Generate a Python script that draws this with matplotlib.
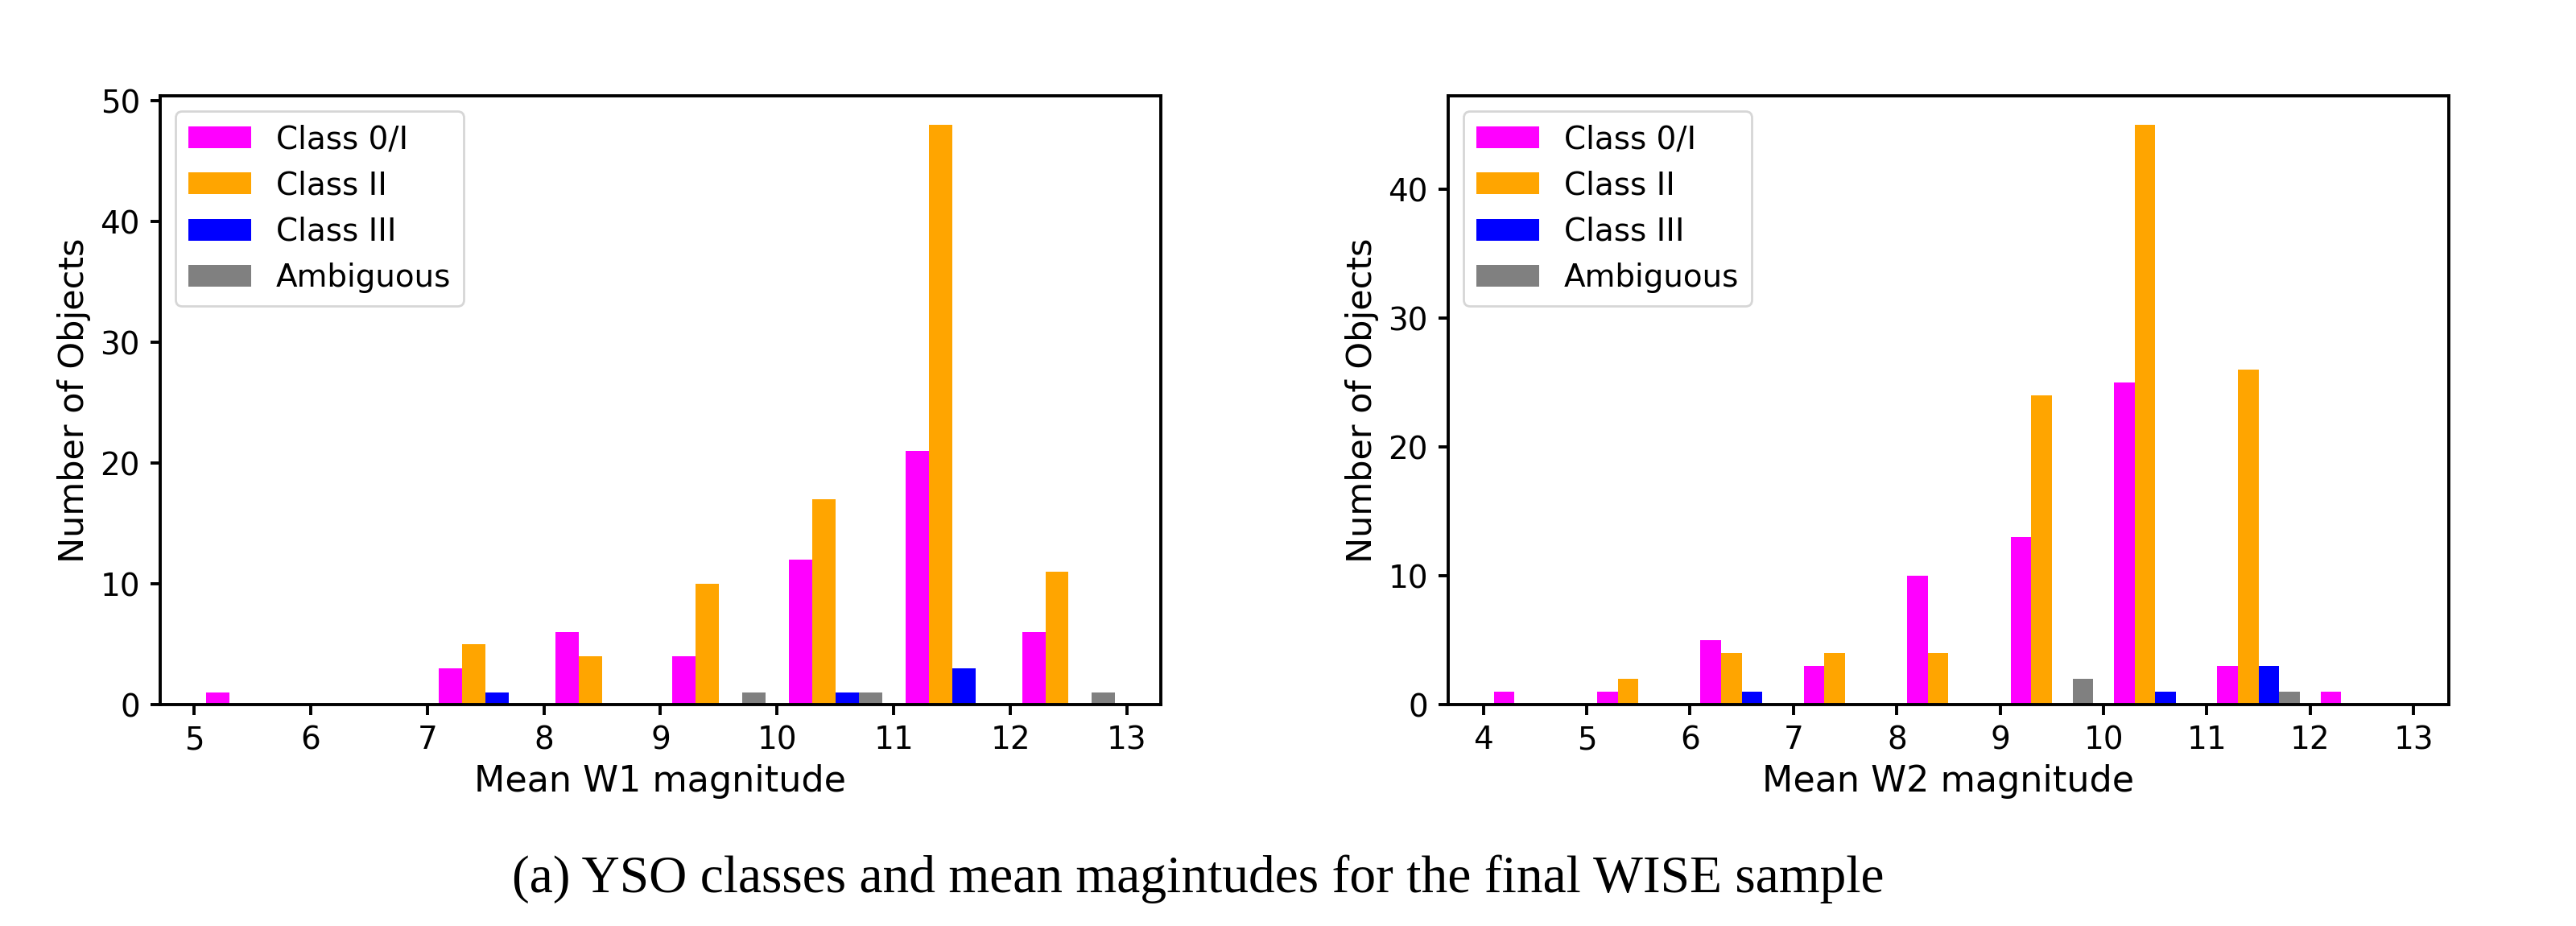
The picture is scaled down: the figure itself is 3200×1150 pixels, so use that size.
import numpy as np
import matplotlib
matplotlib.use('Agg')
import matplotlib.pyplot as plt

# class labels and colours
labels = ['Class 0/I', 'Class II', 'Class III', 'Ambiguous']
colors = ['magenta', 'orange', 'blue', 'gray']

# W1 histogram: one count per integer-magnitude bin
w1_edges = [5, 6, 7, 8, 9, 10, 11, 12, 13]
w1_class0 = [1, 0, 3, 6, 4, 12, 21, 6]
w1_class2 = [0, 0, 5, 4, 10, 17, 48, 11]
w1_class3 = [0, 0, 1, 0, 0, 1, 3, 0]
w1_amb = [0, 0, 0, 0, 1, 1, 0, 1]

# W2 histogram
w2_edges = [4, 5, 6, 7, 8, 9, 10, 11, 12, 13]
w2_class0 = [1, 1, 5, 3, 10, 13, 25, 3, 1]
w2_class2 = [0, 2, 4, 4, 4, 24, 45, 26, 0]
w2_class3 = [0, 0, 1, 0, 0, 0, 1, 3, 0]
w2_amb = [0, 0, 0, 0, 0, 2, 0, 1, 0]

caption = '(a) YSO classes and mean magintudes for the final WISE sample'

plt.rcParams['font.family'] = 'DejaVu Sans'
plt.rcParams['axes.linewidth'] = 1.4
plt.rcParams['xtick.major.width'] = 1.4
plt.rcParams['ytick.major.width'] = 1.4
plt.rcParams['xtick.major.size'] = 4.5
plt.rcParams['ytick.major.size'] = 4.5
plt.rcParams['xtick.major.pad'] = 4.5
plt.rcParams['ytick.major.pad'] = 4.5
plt.rcParams['xtick.labelsize'] = 14
plt.rcParams['ytick.labelsize'] = 14


def draw_hist(ax, edges, counts, xlabel):
    """
    Side-by-side histogram from per-bin counts.
    """
    centers = [(a + b) / 2.0 for a, b in zip(edges[:-1], edges[1:])]
    ax.hist([centers] * len(counts), bins=edges, weights=counts,
            color=colors, label=labels)
    ax.set_xticks(edges)
    ax.set_xlabel(xlabel, fontsize=16)
    ax.set_ylabel('Number of Objects', fontsize=15.5)
    ax.legend(loc='upper left', fontsize=14)


fig = plt.figure(figsize=(16, 5.75), dpi=200)
ax1 = fig.add_axes([0.0622, 0.2391, 0.3884, 0.6574])
ax2 = fig.add_axes([0.5622, 0.2391, 0.3884, 0.6574])

draw_hist(ax1, w1_edges, [w1_class0, w1_class2, w1_class3, w1_amb], 'Mean W1 magnitude')
draw_hist(ax2, w2_edges, [w2_class0, w2_class2, w2_class3, w2_amb], 'Mean W2 magnitude')

fig.text(0.19875, 0.0365, caption, family='Liberation Serif', fontsize=23.6,
         ha='left', va='baseline')

fig.savefig('out.png', dpi=200)
